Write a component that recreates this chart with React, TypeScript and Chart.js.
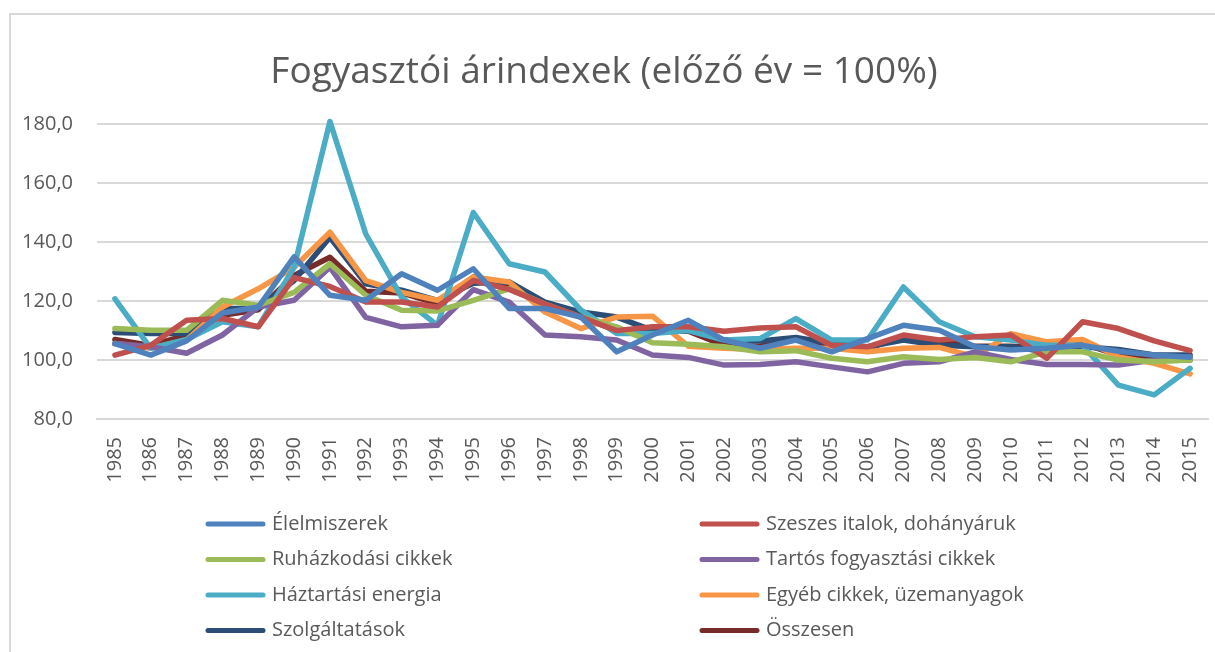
import React, { useEffect, useRef } from "react";
import { Chart, registerables } from "chart.js";

Chart.register(...registerables);

const years = [
  "1985", "1986", "1987", "1988", "1989", "1990", "1991", "1992", "1993", "1994",
  "1995", "1996", "1997", "1998", "1999", "2000", "2001", "2002", "2003", "2004",
  "2005", "2006", "2007", "2008", "2009", "2010", "2011", "2012", "2013", "2014", "2015",
];

const elelmiszerek = [
  105.6, 101.7, 106.5, 116, 118, 135, 122, 120.3, 129.3, 123.7,
  131, 117.5, 117.5, 114.6, 102.8, 108.5, 113.5, 106.8, 104, 106.8,
  102.8, 107.3, 111.8, 110.1, 104.5, 103.4, 104, 105, 103, 101.7, 101,
];
const szeszes = [
  101.7, 105, 113.5, 114.1, 111.3, 128, 125, 119.7, 119.7, 118,
  127, 124, 119, 114.6, 110, 111.3, 111.3, 109.8, 110.9, 111.3,
  105, 104.5, 108.5, 106.8, 107.9, 108.5, 100.6, 113, 110.7, 106.5, 103.2,
];
const ruhazkodasi = [
  110.7, 110.1, 110.1, 120.3, 118.6, 123, 132.7, 122, 116.9, 116.7,
  120.3, 124.2, 119, 114.6, 111.3, 105.9, 105.4, 104.5, 102.8, 103.2,
  100.6, 99.4, 101.1, 100.2, 100.9, 99.4, 102.8, 102.8, 100, 99.4, 100,
];
const tartos = [
  105.6, 104.5, 102.3, 108.5, 118, 120.3, 131.5, 114.5, 111.3, 111.8,
  123.9, 119.7, 108.5, 107.9, 106.8, 101.7, 100.9, 98.3, 98.5, 99.4,
  97.7, 96, 98.9, 99.4, 102.8, 100.2, 98.5, 98.5, 98.3, 100, 101.1,
];
const haztartasi = [
  120.8, 104, 107, 113, 111.3, 131.5, 181, 142.8, 121.4, 111.8,
  150.1, 132.7, 129.9, 117, 109, 109, 110, 106.8, 107.3, 114.1,
  106.8, 106.8, 124.8, 113, 107.9, 106.8, 105, 105, 91.5, 88.2, 97.2,
];
const egyeb = [
  105.6, 104, 106.8, 118, 124.2, 131.5, 143.4, 127, 123, 120.3,
  128.2, 126.5, 116.3, 110.7, 114.6, 114.9, 104.7, 104, 103.6, 104,
  104, 102.8, 104, 104.3, 101.1, 109, 106.2, 107, 101.1, 98.9, 95.3,
];
const szolgaltatasok = [
  109.4, 109, 109, 117.5, 117.5, 127, 141.7, 125.9, 123.7, 120.3,
  126.1, 126.5, 119.7, 116.3, 114.6, 110.1, 110.1, 106.8, 106.5, 107.7,
  105.6, 104.5, 106.8, 105, 104.5, 104.5, 102.8, 104.5, 103.6, 101.7, 101.7,
];
const osszesen = [
  107, 105, 108.5, 115.2, 117.1, 128.7, 134.9, 123.4, 122.8, 119.2,
  128.2, 124.8, 119.2, 114.6, 110.1, 109.8, 109.8, 105, 104.7, 107,
  104.5, 104, 107.9, 106.2, 104.7, 104.7, 104, 105.6, 101.7, 100, 100,
];

const seriesNames = [
  "Élelmiszerek",
  "Szeszes italok, dohányáruk",
  "Ruházkodási cikkek",
  "Tartós fogyasztási cikkek",
  "Háztartási energia",
  "Egyéb cikkek, üzemanyagok",
  "Szolgáltatások",
  "Összesen",
];
const seriesColors = [
  "#4F81BD", "#C0504D", "#9BBB59", "#8064A2",
  "#4BACC6", "#F79646", "#2C4D75", "#772C2A",
];
const seriesData = [
  elelmiszerek, szeszes, ruhazkodasi, tartos,
  haztartasi, egyeb, szolgaltatasok, osszesen,
];

const yTicks = [80, 100, 120, 140, 160, 180];
const titleText = "Fogyasztói árindexek (előző év = 100%)";

const FONT = "'Open Sans', 'DejaVu Sans', sans-serif";
const TEXT = "#595959";
const GRID = "#d9d9d9";

const framePlugin = {
  id: "frame",
  beforeDraw(chart: any) {
    const ctx = chart.ctx;
    ctx.save();
    ctx.fillStyle = "#ffffff";
    ctx.fillRect(0, 0, chart.width, chart.height);
    ctx.strokeStyle = GRID;
    ctx.lineWidth = 2;
    ctx.strokeRect(10, 14, chart.width + 20, chart.height + 20);
    ctx.restore();
  },
};

const legendPlugin = {
  id: "twoColLegend",
  afterDraw(chart: any) {
    const ctx = chart.ctx;
    const area = chart.chartArea;
    const colX = [208, 702];
    const rowY0 = area.bottom + 105;
    const rowGap = 35.5;
    ctx.save();
    ctx.font = `20px ${FONT}`;
    ctx.textBaseline = "middle";
    ctx.textAlign = "left";
    chart.data.datasets.forEach((ds: any, i: number) => {
      const col = i % 2;
      const row = Math.floor(i / 2);
      const x = colX[col];
      const y = rowY0 + row * rowGap;
      ctx.strokeStyle = ds.borderColor;
      ctx.lineWidth = 5;
      ctx.lineCap = "round";
      ctx.beginPath();
      ctx.moveTo(x, y);
      ctx.lineTo(x + 55, y);
      ctx.stroke();
      ctx.fillStyle = TEXT;
      ctx.fillText(ds.label, x + 64, y);
    });
    ctx.restore();
  },
};

export default function App() {
  const ref = useRef<HTMLCanvasElement | null>(null);

  useEffect(() => {
    if (!ref.current) return;
    const chart = new Chart(ref.current, {
      type: "line",
      data: {
        labels: years,
        datasets: seriesNames.map((name, i) => ({
          label: name,
          data: seriesData[i],
          borderColor: seriesColors[i],
          backgroundColor: seriesColors[i],
          borderWidth: 5.5,
          pointRadius: 0,
          pointHoverRadius: 0,
          tension: 0,
          borderJoinStyle: "round" as const,
          borderCapStyle: "round" as const,
          fill: false,
          clip: 10,
        })),
      },
      options: {
        animation: false,
        responsive: false,
        maintainAspectRatio: false,
        layout: { padding: { left: 0, right: 7, top: 0, bottom: 163 } },
        plugins: {
          legend: { display: false },
          tooltip: { enabled: false },
          title: {
            display: true,
            text: titleText,
            color: TEXT,
            font: { family: FONT, size: 37, weight: "normal" },
            padding: { top: 50, bottom: 30 },
          },
        },
        scales: {
          x: {
            type: "category",
            offset: true,
            grid: { display: false, drawTicks: false },
            border: { display: true, color: GRID, width: 2 },
            ticks: {
              color: TEXT,
              font: { family: FONT, size: 20 },
              maxRotation: 90,
              minRotation: 90,
              autoSkip: false,
              padding: 18,
            },
            afterFit(scale: any) {
              scale.height = 70;
              scale.paddingLeft = 0;
              scale.paddingRight = 0;
            },
          },
          y: {
            min: 80,
            max: 180,
            grid: { color: GRID, lineWidth: 2, drawTicks: false },
            border: { display: false },
            afterBuildTicks(scale: any) {
              scale.ticks = yTicks.map((v) => ({ value: v }));
            },
            ticks: {
              color: TEXT,
              font: { family: FONT, size: 20 },
              padding: 24,
              callback: (v: any) => Number(v).toFixed(1).replace(".", ","),
            },
            afterFit(scale: any) {
              scale.width = 97;
            },
          },
        },
      },
      plugins: [framePlugin, legendPlugin],
    });
    return () => chart.destroy();
  }, []);

  return (
    <div style={{ position: "fixed", left: 0, top: 0, width: 1215, height: 652, background: "#fff" }}>
      <canvas ref={ref} width={1215} height={652} style={{ display: "block", width: 1215, height: 652 }} />
    </div>
  );
}
